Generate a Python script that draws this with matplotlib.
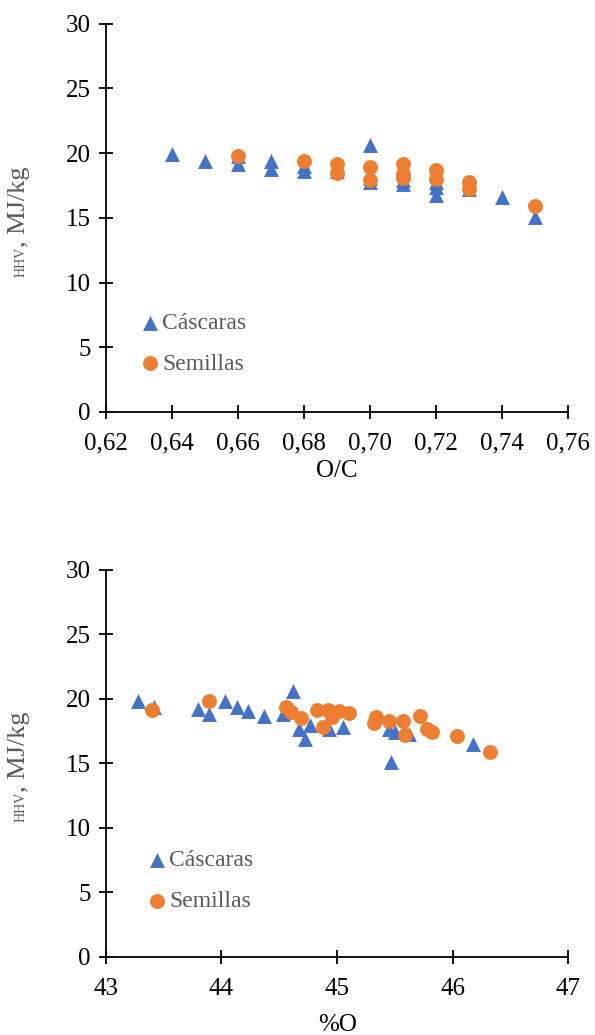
import matplotlib
matplotlib.use("Agg")
import matplotlib.pyplot as plt

plt.rcParams["font.family"] = ["Liberation Serif", "DejaVu Serif"]

BLUE = "#4472C4"
ORANGE = "#ED7D31"
GREY = "#595959"

# HHV (MJ/kg) vs O/C ratio
casc_oc = [0.64, 0.65, 0.66, 0.66, 0.67, 0.67, 0.68, 0.68, 0.69, 0.70,
           0.70, 0.70, 0.71, 0.71, 0.72, 0.72, 0.72, 0.73, 0.74, 0.75]
casc_hhv_oc = [19.9, 19.4, 19.8, 19.2, 19.4, 18.8, 19.0, 18.6, 18.6, 20.6,
               18.1, 17.8, 17.9, 17.6, 17.8, 17.4, 16.8, 17.2, 16.6, 15.1]
sem_oc = [0.66, 0.68, 0.69, 0.69, 0.70, 0.70, 0.71, 0.71, 0.71, 0.72,
          0.72, 0.73, 0.73, 0.75]
sem_hhv_oc = [19.8, 19.4, 19.2, 18.5, 18.9, 17.9, 19.2, 18.4, 18.1, 18.7,
              18.0, 17.8, 17.2, 15.9]

# HHV (MJ/kg) vs oxygen content (%)
casc_o = [43.28, 43.42, 43.80, 43.89, 44.03, 44.13, 44.23, 44.37, 44.53, 44.62,
          44.67, 44.72, 44.77, 44.93, 45.05, 45.45, 45.50, 45.62, 45.47, 46.18]
casc_hhv_o = [19.85, 19.4, 19.2, 18.8, 19.8, 19.4, 19.1, 18.7, 18.8, 20.6,
              17.7, 16.9, 18.0, 17.7, 17.8, 17.7, 17.4, 17.3, 15.1, 16.5]
sem_o = [43.40, 43.89, 44.56, 44.60, 44.69, 44.83, 44.88, 44.92, 44.96, 45.02,
         45.10, 45.32, 45.34, 45.45, 45.57, 45.59, 45.72, 45.78, 45.82, 46.04,
         46.32]
sem_hhv_o = [19.15, 19.8, 19.4, 19.0, 18.55, 19.15, 17.85, 19.15, 18.6, 19.1,
             18.9, 18.1, 18.6, 18.25, 18.3, 17.2, 18.7, 17.7, 17.4, 17.1,
             15.85]

oc_ticks = [0.62, 0.64, 0.66, 0.68, 0.70, 0.72, 0.74, 0.76]
oc_labels = ["0,62", "0,64", "0,66", "0,68", "0,70", "0,72", "0,74", "0,76"]
o_ticks = [43, 44, 45, 46, 47]
hhv_ticks = [0, 5, 10, 15, 20, 25, 30]

fig = plt.figure(figsize=(5.95, 10.35), dpi=100)
ax1 = fig.add_axes([0.178, 0.602, 0.777, 0.375])
ax2 = fig.add_axes([0.178, 0.0754, 0.777, 0.374])


def style(ax, xs1, ys1, xs2, ys2, xticks, xlabels, xlim, xlabel, xlabelpad,
          leg_anchor):
    ax.scatter(xs1, ys1, marker="^", s=115, color=BLUE, linewidths=0,
               label="Cáscaras", zorder=3)
    ax.scatter(xs2, ys2, marker="o", s=115, color=ORANGE, linewidths=0,
               label="Semillas", zorder=4)
    ax.set_xlim(*xlim)
    ax.set_ylim(0, 30)
    ax.set_xticks(xticks)
    ax.set_xticklabels(xlabels)
    ax.set_yticks(hhv_ticks)
    for side in ("top", "right"):
        ax.spines[side].set_visible(False)
    for side in ("left", "bottom"):
        ax.spines[side].set_linewidth(1.3)
        ax.spines[side].set_color("black")
    ax.tick_params(direction="inout", length=10, width=1.3, labelsize=18)
    ax.tick_params(axis="y", pad=6)
    ax.tick_params(axis="x", pad=10)
    ax.set_xlabel(xlabel, fontsize=18, labelpad=xlabelpad)
    # y label: small-caps "HHV" followed by the unit
    hhv = ax.text(-0.175, 0.348, "HHV", transform=ax.transAxes, rotation=90,
                  rotation_mode="anchor", ha="left", va="baseline",
                  fontsize=10, color=GREY)
    ax.annotate(", MJ/kg", xy=(-0.175, 1.0), xycoords=(ax.transAxes, hhv),
                rotation=90, rotation_mode="anchor", ha="left",
                va="baseline", fontsize=19, color=GREY, annotation_clip=False)
    leg = ax.legend(loc="lower left", bbox_to_anchor=leg_anchor, frameon=False,
                    fontsize=17, handletextpad=0.0, labelspacing=0.8,
                    borderaxespad=0, scatterpoints=1, handlelength=1.0)
    for t in leg.get_texts():
        t.set_color(GREY)


style(ax1, casc_oc, casc_hhv_oc, sem_oc, sem_hhv_oc, oc_ticks, oc_labels,
      (0.62, 0.76), "O/C", 4, (0.05, 0.072))
style(ax2, casc_o, casc_hhv_o, sem_o, sem_hhv_o, o_ticks,
      [str(t) for t in o_ticks], (43, 47), "%O", 10, (0.065, 0.092))

fig.savefig("out.png", dpi=100)
